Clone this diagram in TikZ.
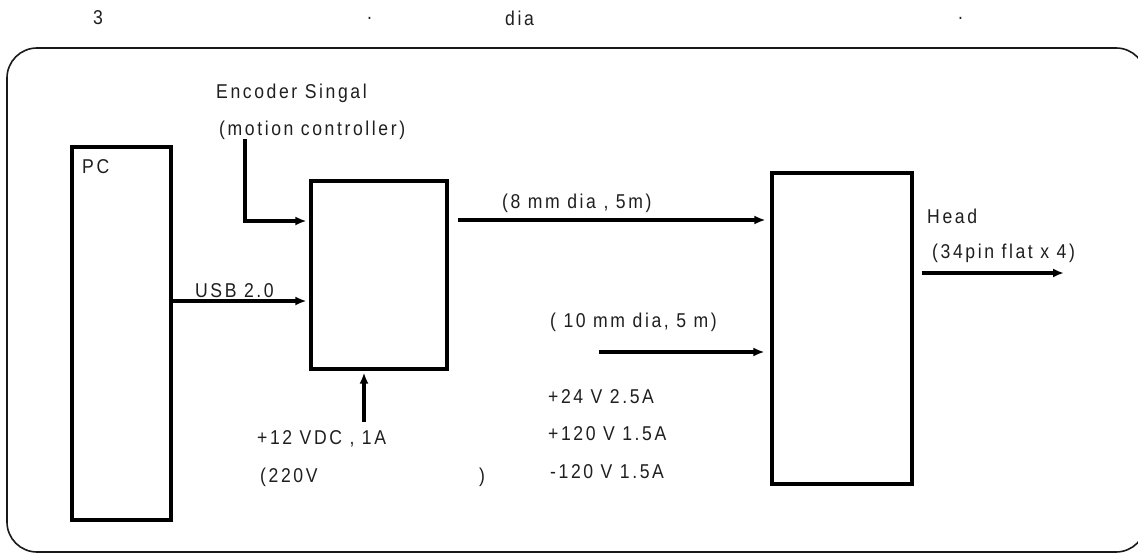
\documentclass[tikz,border=0pt]{standalone}
\usepackage{fontspec}
\setmainfont{Liberation Sans}[FakeStretch=0.88,LetterSpace=13]
\usetikzlibrary{arrows.meta}
\begin{document}
\begin{tikzpicture}[x=1pt,y=-1pt,
  txt/.style={anchor=west,inner sep=0pt,text=black!88,font=\fontsize{20}{24}\selectfont},
  blk/.style={draw=black,line width=3.2pt,minimum width=#1,inner sep=0pt},
  arr/.style={line width=3.6pt,-{Latex[length=11pt,width=9pt]}},
  frame/.style={draw=black!90,line width=1.6pt,rounded corners=30pt}]
\useasboundingbox (0,0) rectangle (1138,553);
\fill[white] (0,0) rectangle (1138,553);
% title row
\node[txt] (t3) at (93,18) {3};
\node[txt] (td1) at (367,18) {.};
\node[txt] (tdia) at (505,18) {dia};
\node[txt] (td2) at (958,18) {.};
% outer frame
\draw[frame] (7,48) rectangle (1146,552);
% blocks
\node[blk=99pt,minimum height=373pt] (pc) at (121.5,333.5) {};
\node[blk=136pt,minimum height=188pt] (mid) at (379,275) {};
\node[blk=140pt,minimum height=311pt] (head) at (842,328.5) {};
% labels
\node[txt] (lpc) at (82,167) {PC};
\node[txt] (lenc) at (216,93) {Encoder Singal};
\node[txt] (lmot) at (219,130) {(motion controller)};
\node[txt] (lusb) at (195,291) {USB 2.0};
\node[txt] (l8) at (502,203) {(8 mm dia , 5m)};
\node[txt] (lhead) at (927,216) {Head};
\node[txt] (l34) at (932,253) {(34pin flat x 4)};
\node[txt] (l10) at (550,322) {( 10 mm dia, 5 m)};
\node[txt] (l24) at (548,397) {+24 V 2.5A};
\node[txt] (l120a) at (548,434) {+120 V 1.5A};
\node[txt] (l120b) at (550,472) {-120 V 1.5A};
\node[txt] (l12) at (257,439) {+12 VDC , 1A};
\node[txt] (l220) at (260,477) {(220V};
\node[txt] (l220b) at (479,477) {)};
% connectors
\coordinate (enc) at (245,139);
\coordinate (pwr) at (364,422);
\coordinate (c10) at (599,352);
\coordinate (hout) at (1064,273);
\draw[arr,shorten >=3pt] (enc) |- (mid.west |- 0,221);
\draw[arr,shorten >=3pt] (pc.east |- 0,301) -- (mid.west |- 0,301);
\draw[arr,shorten >=2pt] (pwr) -- (pwr |- mid.south);
\draw[arr,shorten <=9pt,shorten >=5pt] (mid.east |- 0,220) -- (head.west |- 0,220);
\draw[arr,shorten >=6pt] (c10) -- (head.west |- c10);
\draw[arr,shorten <=8pt] (head.east |- hout) -- (hout);
\end{tikzpicture}
\end{document}
